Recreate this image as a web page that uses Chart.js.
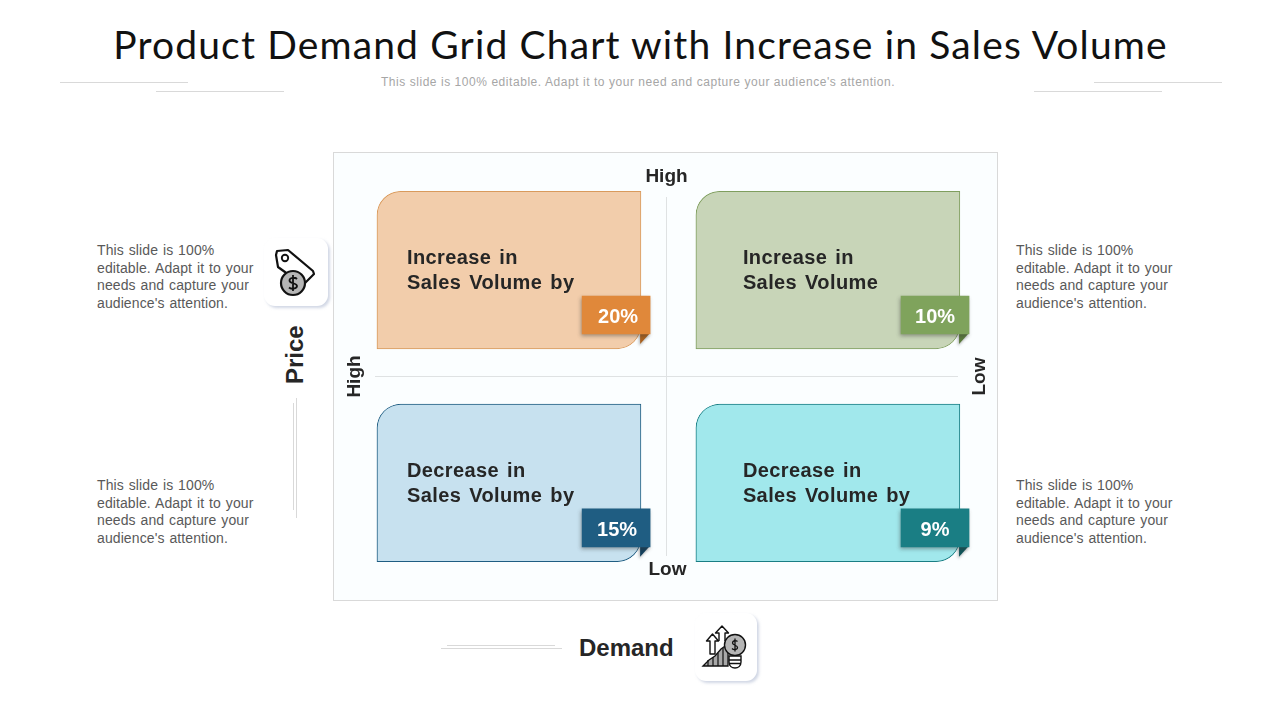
<!DOCTYPE html>
<html>
<head>
<meta charset="utf-8">
<title>Product Demand Grid Chart</title>
<script src="https://cdn.jsdelivr.net/npm/chart.js@4/dist/chart.umd.min.js"></script>
<style>
html,body{margin:0;padding:0;background:#fff;}
#page{position:relative;width:1280px;height:720px;overflow:hidden;font-family:"Liberation Sans",Arial,sans-serif;}
#page div{position:absolute;}
#chart{position:absolute;left:0;top:0;}
.title{left:0;width:1281px;top:19px;text-align:center;font-family:Lato,sans-serif;font-weight:400;font-size:39px;line-height:50px;color:#111;letter-spacing:1.15px;white-space:nowrap;}
.sub{left:0;width:1276px;top:74px;text-align:center;font-size:12px;line-height:16px;color:#a6a6a6;letter-spacing:.55px;white-space:nowrap;}
.rule{background:#d9d9d9;}
.panel{left:333px;top:152px;width:663px;height:447px;border:1px solid #d9d9d9;background:#fbfeff;}
.note{width:170px;font-size:14px;line-height:17.6px;color:#595959;white-space:pre-line;word-spacing:.9px;letter-spacing:.1px;}
.iconcard{background:#fff;border-radius:11px;box-shadow:2px 2px 3px rgba(170,180,205,.55);}
.axisname{font-weight:bold;font-size:24px;line-height:28px;color:#262626;white-space:nowrap;}
</style>
</head>
<body>
<div id="page">
  <div class="title">Product Demand Grid Chart with Increase in Sales Volume</div>
  <div class="sub">This slide is 100% editable. Adapt it to your need and capture your audience's attention.</div>
  <div class="rule" style="left:60px;top:82px;width:128px;height:1px"></div>
  <div class="rule" style="left:156px;top:91px;width:128px;height:1px"></div>
  <div class="rule" style="left:1094px;top:82px;width:128px;height:1px"></div>
  <div class="rule" style="left:1034px;top:91px;width:128px;height:1px"></div>

  <div class="panel"></div>

  <div class="note" style="left:97px;top:242px">This slide is 100%
editable. Adapt it to your
needs and capture your
audience's attention.</div>
  <div class="note" style="left:97px;top:477px">This slide is 100%
editable. Adapt it to your
needs and capture your
audience's attention.</div>
  <div class="note" style="left:1016px;top:242px">This slide is 100%
editable. Adapt it to your
needs and capture your
audience's attention.</div>
  <div class="note" style="left:1016px;top:477px">This slide is 100%
editable. Adapt it to your
needs and capture your
audience's attention.</div>

  <div class="iconcard" style="left:264px;top:238px;width:64px;height:68px">
    <svg width="64" height="68" viewBox="0 0 64 68" style="position:absolute;left:0;top:0">
      <path d="M12 17 L13 13 L24 12 L49 33 L50 36 L39 47 L14 29 Z" fill="#fff" stroke="#111" stroke-width="2.2" stroke-linejoin="round"/>
      <circle cx="21" cy="20" r="3.2" fill="#fff" stroke="#111" stroke-width="1.9"/>
      <circle cx="29" cy="45" r="12" fill="#b5b5b5" stroke="#111" stroke-width="2.2"/>
      <path d="M33 41 C31 39 25.500 39.500 25.500 42.500 C25.500 46 33 44.500 33 48 C33 51 27 51.500 25 49.500 M29 37 V53" fill="none" stroke="#111" stroke-width="1.8"/>
    </svg>
  </div>
  <div class="iconcard" style="left:695px;top:613px;width:62px;height:68px">
    <svg width="62" height="68" viewBox="0 0 62 68" style="position:absolute;left:0;top:0">
      <path d="M8 53 L14 47 L20 43 L26 36 L33 31 V53 Z" fill="#a8a8a8" stroke="#111" stroke-width="1.3"/>
      <path d="M13 47 V53 M18 44 V53 M23 40 V53 M28 35 V53" stroke="#111" stroke-width="1.2"/>
      <path d="M15 41 V28 H11.500 L17.500 21 L23.500 28 H20 V41 Z" fill="#fff" stroke="#111" stroke-width="1.4" stroke-linejoin="round"/>
      <path d="M24 28 V20 H20.500 L27 13 L33.500 20 H30 V28" fill="#fff" stroke="#111" stroke-width="1.4" stroke-linejoin="round"/>
      <circle cx="40" cy="32" r="10.500" fill="#b5b5b5" stroke="#111" stroke-width="1.4"/>
      <path d="M42.500 28.500 C41 27 37.500 27.500 37.500 30 C37.500 32.500 42.500 32 42.500 34.500 C42.500 37 38.500 37 37 35.500 M40 25.500 V38.500" fill="none" stroke="#111" stroke-width="1.3"/>
      <path d="M34 43 H46 V49 C46 57 34 57 34 49 Z M34 47 H46 M34 50.500 H46" fill="#fff" stroke="#111" stroke-width="1.4"/>
    </svg>
  </div>

  <div class="axisname" style="left:278px;top:341px;width:34px;text-align:center;transform:rotate(-90deg)"><span style="position:relative;left:-12px">Price</span></div>
  <div class="rule" style="left:293px;top:403px;width:1px;height:107px"></div>
  <div class="rule" style="left:296px;top:398px;width:1px;height:120px"></div>
  <div class="axisname" style="left:579px;top:634px">Demand</div>
  <div class="rule" style="left:447px;top:645px;width:108px;height:1px"></div>
  <div class="rule" style="left:441px;top:648px;width:121px;height:1px"></div>

  <canvas id="chart" width="1280" height="720"></canvas>
</div>

<script>
const demandLevels = ["High", "Low"];
const priceLevels = ["High", "Low"];

const cellColumn = [0, 1, 0, 1];
const cellRow = [0, 0, 1, 1];
const cellShare = [20, 10, 15, 9];
const cellText = [
    ["Increase in", "Sales Volume by"],
    ["Increase in", "Sales Volume"],
    ["Decrease in", "Sales Volume by"],
    ["Decrease in", "Sales Volume by"]
];

const cardFill = ["#f2cdab", "#c8d5b8", "#c7e1ef", "#a1e8ec"];
const cardLine = ["#d99a5c", "#7f9e5e", "#1f5d82", "#1a7e84"];
const tagFill = ["#e0883a", "#7fa35c", "#1f5d82", "#1a7e84"];
const tagFold = ["#a9611f", "#5a7a3c", "#123f5c", "#0f5459"];
const textLeft = [30, 47, 30, 47];
const tagTextShift = [2, 0, 1, 0];

const ink = "#262626";

// fraction of a grid cell, the grid is two by two with the cross at 1,1
const cardX = 0.506;
const tagX = 0.842;
const cardTop = 0.13, cardBottom = 0.87;
const tagTop = 0.622, tagBottom = 0.8;

const cardData = cellColumn.map((c, i) => ({
    x: c + cardX,
    y: [cellRow[i] + cardTop, cellRow[i] + cardBottom]
}));
const tagData = cellColumn.map((c, i) => ({
    x: c + tagX,
    y: [cellRow[i] + tagTop, cellRow[i] + tagBottom]
}));

const gridText = {
    id: "gridText",
    beforeDatasetDraw(chart, args) {
        if (args.index !== 1) return;
        const ctx = chart.ctx;
        // the little fold under each tag
        args.meta.data.forEach((bar, i) => {
            const right = bar.x + bar.width / 2;
            const bottom = Math.max(bar.y, bar.base);
            ctx.save();
            ctx.shadowColor = "rgba(60,60,60,.4)";
            ctx.shadowBlur = 3;
            ctx.shadowOffsetX = -1;
            ctx.shadowOffsetY = 2;
            ctx.fillStyle = tagFold[i];
            ctx.beginPath();
            ctx.moveTo(right - 10, bottom - 1);
            ctx.lineTo(right, bottom - 1);
            ctx.lineTo(right - 10, bottom + 10);
            ctx.closePath();
            ctx.fill();
            ctx.restore();
        });
        ctx.save();
        ctx.shadowColor = "rgba(60,60,60,.45)";
        ctx.shadowBlur = 4;
        ctx.shadowOffsetX = -1;
        ctx.shadowOffsetY = 2;
    },
    afterDatasetDraw(chart, args) {
        if (args.index === 1) chart.ctx.restore();
    },
    afterDraw(chart) {
        const ctx = chart.ctx;
        const { x, y } = chart.scales;
        const cards = chart.getDatasetMeta(0).data;
        const tags = chart.getDatasetMeta(1).data;

        ctx.save();
        ctx.fillStyle = ink;
        ctx.textAlign = "left";
        ctx.textBaseline = "alphabetic";
        ctx.font = "bold 20px 'Liberation Sans'";
        ctx.letterSpacing = "0.4px";
        ctx.wordSpacing = "2px";
        cards.forEach((bar, i) => {
            const left = bar.x - bar.width / 2;
            const top = Math.min(bar.y, bar.base);
            cellText[i].forEach((line, n) => {
                ctx.fillText(line, left + textLeft[i], top + 73 + n * 25);
            });
        });
        ctx.letterSpacing = "0px";
        ctx.wordSpacing = "0px";

        ctx.fillStyle = "#fff";
        ctx.textAlign = "center";
        ctx.textBaseline = "middle";
        ctx.font = "bold 20px 'Liberation Sans'";
        tags.forEach((bar, i) => {
            ctx.fillText(cellShare[i] + "%", bar.x + tagTextShift[i], (bar.y + bar.base) / 2 + 3);
        });

        // the ends of the two axes
        ctx.fillStyle = ink;
        ctx.font = "bold 19px 'Liberation Sans'";
        ctx.fillText(priceLevels[0], x.getPixelForValue(1), y.top - 20);
        ctx.fillText(priceLevels[1], x.getPixelForValue(1) + 1, y.bottom + 14);
        ctx.save();
        ctx.translate(x.left - 20, y.getPixelForValue(1));
        ctx.rotate(-Math.PI / 2);
        ctx.fillText(demandLevels[0], 0, 0);
        ctx.restore();
        ctx.save();
        ctx.translate(x.right + 22, y.getPixelForValue(1));
        ctx.rotate(-Math.PI / 2);
        ctx.fillText(demandLevels[1], 0, 0);
        ctx.restore();
        ctx.restore();
    }
};

const crossAxis = {
    display: true,
    offset: false,
    border: { display: false },
    grid: { color: "#dfe2e3", lineWidth: 1, drawTicks: false, offset: false },
    ticks: { display: false },
    afterBuildTicks(axis) { axis.ticks = [{ value: 1 }]; }
};

new Chart(document.getElementById("chart").getContext("2d"), {
    type: "bar",
    data: {
        datasets: [
            {
                data: cardData,
                order: 1,
                backgroundColor: cardFill,
                borderColor: cardLine,
                borderWidth: 1,
                borderSkipped: false,
                borderRadius: { topLeft: 24, topRight: 0, bottomLeft: 0, bottomRight: 24 },
                barThickness: 264,
                grouped: false,
                clip: false
            },
            {
                data: tagData,
                order: 0,
                backgroundColor: tagFill,
                borderWidth: 0,
                barThickness: 68,
                grouped: false,
                clip: false
            }
        ]
    },
    plugins: [gridText],
    options: {
        responsive: false,
        animation: false,
        layout: { padding: { left: 375, right: 322, top: 197, bottom: 164 } },
        plugins: { legend: { display: false }, tooltip: { enabled: false } },
        scales: {
            x: Object.assign({ type: "linear", min: 0.086, max: 1.914 }, crossAxis),
            y: Object.assign({ type: "linear", min: 0.157, max: 1.843, reverse: true }, crossAxis)
        }
    }
});
</script>
</body>
</html>
